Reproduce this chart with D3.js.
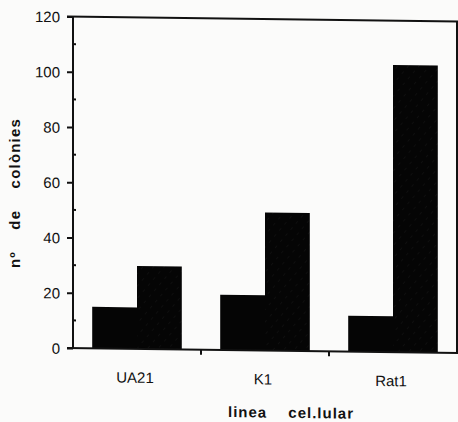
<!DOCTYPE html>
<html>
<head>
<meta charset="utf-8">
<script src="https://cdn.jsdelivr.net/npm/d3@7"></script>
<style>
  body { margin: 0; background: #fbfbfa; }
  text { font-family: "Liberation Sans", Arial, sans-serif; fill: #111; }
</style>
</head>
<body>
<div id="chart"></div>
<script>
const categories = ["UA21", "K1", "Rat1"];
const series1 = [15, 20, 13];
const series2 = [30, 50, 104];
const yTicks = [0, 20, 40, 60, 80, 100, 120];
const yMinorTicks = [10, 30, 50, 70, 90, 110];

const width = 458, height = 422;
const plotLeft = 73, plotRight = 457, plotTop = 16.5, plotBottom = 348;

const svg = d3.select("#chart").append("svg")
    .attr("width", width)
    .attr("height", height);

svg.append("rect")
    .attr("width", width)
    .attr("height", height)
    .attr("fill", "#fbfbfa");

// faint hatch seen on the second bar of each pair
const defs = svg.append("defs");
const pat = defs.append("pattern")
    .attr("id", "hatch")
    .attr("patternUnits", "userSpaceOnUse")
    .attr("width", 8)
    .attr("height", 8)
    .attr("patternTransform", "rotate(40)");
pat.append("rect").attr("width", 8).attr("height", 8).attr("fill", "#050505");
pat.append("line")
    .attr("x1", 0).attr("y1", 0).attr("x2", 0).attr("y2", 3)
    .attr("stroke", "#161616").attr("stroke-width", 1);

// the scan is slightly skewed, so tilt the plot a little
const g = svg.append("g")
    .attr("transform", `translate(${plotLeft},0) skewY(0.75) translate(${-plotLeft},0)`);

let x = d3.scaleBand()
    .domain(categories)
    .range([plotLeft, plotRight])
    .paddingInner(0.3)
    .paddingOuter(0.15);

let sub = d3.scaleBand()
    .domain([0, 1])
    .range([0, x.bandwidth()]);

let y = d3.scaleLinear()
    .domain([0, 120])
    .range([plotBottom, plotTop]);

// bars
g.selectAll(".bar1")
    .data(categories)
    .join("rect")
    .attr("x", (d) => x(d) + sub(0))
    .attr("y", (d, i) => y(series1[i]))
    .attr("width", sub.bandwidth())
    .attr("height", (d, i) => plotBottom - y(series1[i]))
    .attr("fill", "#050505");

g.selectAll(".bar2")
    .data(categories)
    .join("rect")
    .attr("x", (d) => x(d) + sub(1))
    .attr("y", (d, i) => y(series2[i]))
    .attr("width", sub.bandwidth())
    .attr("height", (d, i) => plotBottom - y(series2[i]))
    .attr("fill", "url(#hatch)");

// y axis
const yAxis = g.append("g")
    .attr("transform", `translate(${plotLeft},0)`)
    .call(d3.axisLeft(y).tickValues(yTicks).tickSize(6).tickPadding(7));
yAxis.select(".domain").remove();
yAxis.selectAll("line").attr("stroke", "#111").attr("stroke-width", 2);
yAxis.selectAll("text")
    .style("font-size", "15px")
    .attr("dy", "0.36em")
    .attr("fill", "#111");

g.selectAll(".minor")
    .data(yMinorTicks)
    .join("line")
    .attr("x1", plotLeft - 1).attr("x2", plotLeft + 3)
    .attr("y1", (d) => y(d)).attr("y2", (d) => y(d))
    .attr("stroke", "#111").attr("stroke-width", 2);

// frame
g.append("line")
    .attr("x1", plotLeft).attr("x2", plotLeft)
    .attr("y1", plotTop).attr("y2", plotBottom)
    .attr("stroke", "#111").attr("stroke-width", 2);
g.append("line")
    .attr("x1", plotLeft - 6).attr("x2", width)
    .attr("y1", plotTop).attr("y2", plotTop)
    .attr("stroke", "#111").attr("stroke-width", 2);
g.append("line")
    .attr("x1", plotRight).attr("x2", plotRight)
    .attr("y1", plotTop).attr("y2", plotBottom)
    .attr("stroke", "#111").attr("stroke-width", 2);
g.append("line")
    .attr("x1", plotLeft - 6).attr("x2", width)
    .attr("y1", plotBottom).attr("y2", plotBottom)
    .attr("stroke", "#111").attr("stroke-width", 2);

// x ticks between groups
const xTicks = categories.slice(0, -1).map((d) => x(d) + x.bandwidth() + x.step() * x.paddingInner() / 2);
g.selectAll(".xtick")
    .data(xTicks)
    .join("line")
    .attr("x1", (d) => d).attr("x2", (d) => d)
    .attr("y1", plotBottom).attr("y2", plotBottom + 5)
    .attr("stroke", "#111").attr("stroke-width", 2);

// category labels
g.selectAll(".xlabel")
    .data(categories)
    .join("text")
    .attr("x", (d) => x(d) + x.bandwidth() / 2 - 2)
    .attr("y", 382)
    .attr("text-anchor", "middle")
    .style("font-size", "15px")
    .text((d) => d);

// axis titles
g.append("text")
    .attr("x", 291)
    .attr("y", 415)
    .attr("text-anchor", "middle")
    .style("font-size", "15px")
    .style("font-weight", "bold")
    .style("letter-spacing", "1px")
    .style("word-spacing", "16px")
    .text("linea cel.lular");

svg.append("text")
    .attr("transform", "translate(20,193) rotate(-90)")
    .attr("text-anchor", "middle")
    .style("font-size", "15px")
    .style("font-weight", "bold")
    .style("letter-spacing", "1.2px")
    .style("word-spacing", "16px")
    .text("nº de colònies");
</script>
</body>
</html>
